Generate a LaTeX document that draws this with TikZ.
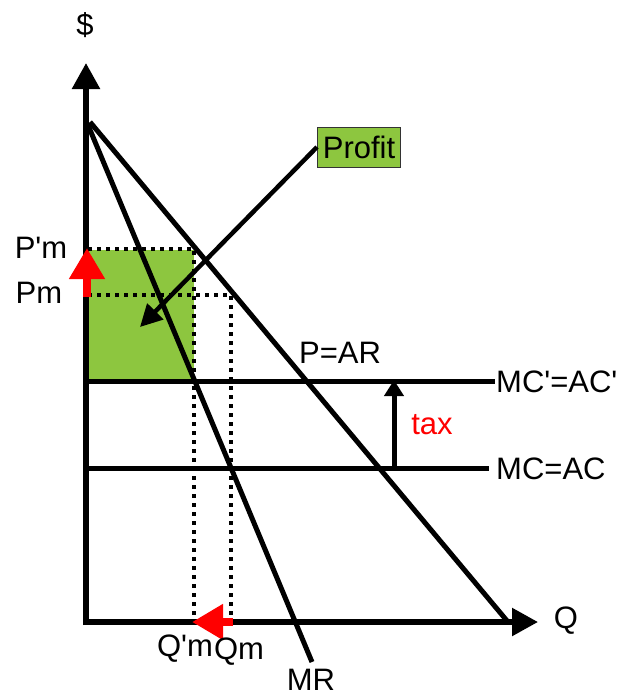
\documentclass[tikz,border=0pt]{standalone}
\usepackage{fontspec}
\setmainfont{Liberation Sans}
\usetikzlibrary{arrows.meta}
\definecolor{profitgreen}{HTML}{8DC63F}
\newcommand{\apos}{\textquotesingle}
\begin{document}
\begin{tikzpicture}[x=1pt,y=-1pt,
  lbl/.style={inner sep=0pt,font=\fontsize{31}{37}\selectfont},
  axisline/.style={line width=5.5pt,-{Triangle[length=26pt,width=27pt]}},
  curve/.style={line width=5pt},
  dotline/.style={line width=4pt,dash pattern=on 4pt off 5pt},
  redarrow/.style={red,line width=8pt,-{Triangle[length=31pt,width=34pt]}}]
\useasboundingbox (0,0) rectangle (636,697);
% key points
\coordinate (O) at (86,622);
\coordinate (Ytop) at (86,63);
\coordinate (Xend) at (538,622);
\coordinate (Dtop) at (90,122);
\coordinate (Dbot) at (508,622);
\coordinate (MRtop) at (88,125);
\coordinate (MRbot) at (312,662);
% profit area
\fill[profitgreen] (88,250) rectangle (194,380);
% dotted guides
\draw[dotline] (88,249) -- (194,249) -- (194,620);
\draw[dotline] (88,295) -- (231,295) -- (231,620);
% cost lines
\coordinate (MCp0) at (86,381);
\coordinate (MCp1) at (495,381);
\coordinate (MC0) at (86,468);
\coordinate (MC1) at (489,468);
\draw[curve] (MCp0) -- (MCp1);
\draw[curve] (MC0) -- (MC1);
% demand and MR
\draw[curve] (Dtop) -- (Dbot);
\draw[curve] (MRtop) -- (MRbot);
% axes
\draw[axisline] (86,625) -- (Ytop);
\draw[axisline] (83,622) -- (Xend);
% tax arrow
\coordinate (T0) at (394,468);
\coordinate (T1) at (394,380);
\draw[line width=5pt,-{Triangle[length=16pt,width=19pt]}] (T0) -- (T1);
% red arrows
\coordinate (RP0) at (87,297);
\coordinate (RP1) at (87,248);
\draw[redarrow] (RP0) -- (RP1);
\coordinate (RQ0) at (233,622);
\coordinate (RQ1) at (192,622);
\draw[redarrow] (RQ0) -- (RQ1);
% profit label
\node[lbl,draw=black!80,line width=1pt,fill=profitgreen,minimum width=83pt,minimum height=40pt] (profit) at (359,147) {Profit};
\coordinate (ptip) at (140,327);
\draw[line width=4.5pt,-{Triangle[length=22pt,width=22pt]}] (profit.west) -- (ptip);
% labels
\node[lbl] (dollar) at (85,25) {\$};
\node[lbl] (Q) at (566,621) {Q};
\node[lbl] (Ppm) at (41,248) {P\apos m};
\node[lbl] (Pm) at (39,293) {Pm};
\node[lbl] (Qpm) at (185,649) {Q\apos m};
\node[lbl] (Qm) at (239,652) {Qm};
\node[lbl] (MR) at (311,680) {MR};
\node[lbl] (PAR) at (340,353) {P=AR};
\node[lbl,anchor=west] (MCp) at (496,382) {MC\apos=AC\apos};
\node[lbl,anchor=west] (MC) at (496,469) {MC=AC};
\node[lbl,red] (tax) at (432,425) {tax};
\end{tikzpicture}
\end{document}
